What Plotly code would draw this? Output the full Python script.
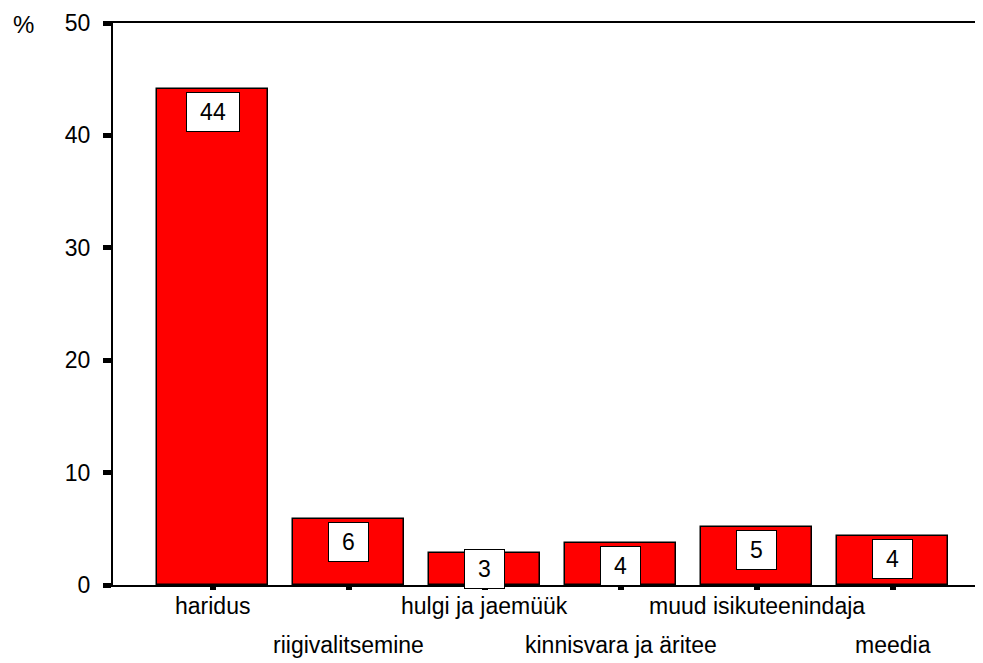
import plotly.graph_objects as go

categories = ["haridus", "riigivalitsemine", "hulgi ja jaemüük",
              "kinnisvara ja äritee", "muud isikuteenindaja", "meedia"]
values = [44.1, 5.85, 2.82, 3.76, 5.13, 4.39]
y_ticks = [0, 10, 20, 30, 40, 50]

OFF = 8  # default page body margin
W, H = 983 - OFF, 663 - OFF
M_L, M_R, M_T, M_B = 113 - OFF, 0, 23 - OFF, 78
PLOT_H = H - M_T - M_B
Y_MAX = 50
PX = PLOT_H / Y_MAX
FONT = "Liberation Sans, Arial, sans-serif"
FS = 23

fig = go.Figure()
fig.add_trace(go.Bar(
    x=list(range(len(categories))), y=values, width=0.82,
    marker=dict(color="#ff0000", line=dict(color="black", width=1.5)),
    hoverinfo="skip",
))

annotations = []
BOX_H = 38
for i, (c, v) in enumerate(zip(categories, values)):
    txt = str(int(round(v)))
    top_px = v * PX - 3
    bottom = top_px - BOX_H - 2
    if bottom < -4:
        top_px += (-4 - bottom)
    shift = top_px - v * PX
    annotations.append(dict(
        x=i, y=v, xref="x", yref="y", text=txt, showarrow=False,
        yanchor="top", yshift=shift, width=26 + 13 * len(txt), height=BOX_H,
        bgcolor="white", bordercolor="black", borderwidth=1, borderpad=0,
        valign="middle", font=dict(family=FONT, size=FS, color="black"),
    ))
    row_shift = -21 if i % 2 == 0 else -60
    annotations.append(dict(
        x=i, y=0, xref="x", yref="paper", text=c, showarrow=False,
        yanchor="middle", yshift=row_shift,
        font=dict(family=FONT, size=FS, color="black"),
    ))

annotations.append(dict(
    x=0, y=1, xref="paper", yref="paper", text="%", showarrow=False,
    xanchor="center", yanchor="middle", xshift=23 - 113, yshift=-1,
    font=dict(family=FONT, size=FS + 1, color="black"),
))

first_center = 212.5 - 113
spacing = 136
x0 = -first_center / spacing
x1 = x0 + (W - M_L - M_R) / spacing

fig.update_layout(
    width=W, height=H,
    margin=dict(l=M_L, r=M_R, t=M_T, b=M_B, pad=0),
    plot_bgcolor="white", paper_bgcolor="white",
    showlegend=False, bargap=0,
    annotations=annotations,
    xaxis=dict(
        range=[x0, x1], tickvals=list(range(len(categories))),
        ticktext=[""] * len(categories),
        showgrid=False, zeroline=False,
        showline=True, linecolor="black", linewidth=2, mirror=True,
        ticks="outside", ticklen=3, tickwidth=6, tickcolor="black",
    ),
    yaxis=dict(
        range=[0, Y_MAX], tickvals=y_ticks,
        showgrid=False, zeroline=False,
        showline=True, linecolor="black", linewidth=2,
        ticks="outside", ticklen=8, tickwidth=5, tickcolor="black",
        ticklabelstandoff=8,
        tickfont=dict(family=FONT, size=FS, color="black"),
    ),
)

fig.write_html("out.html")
